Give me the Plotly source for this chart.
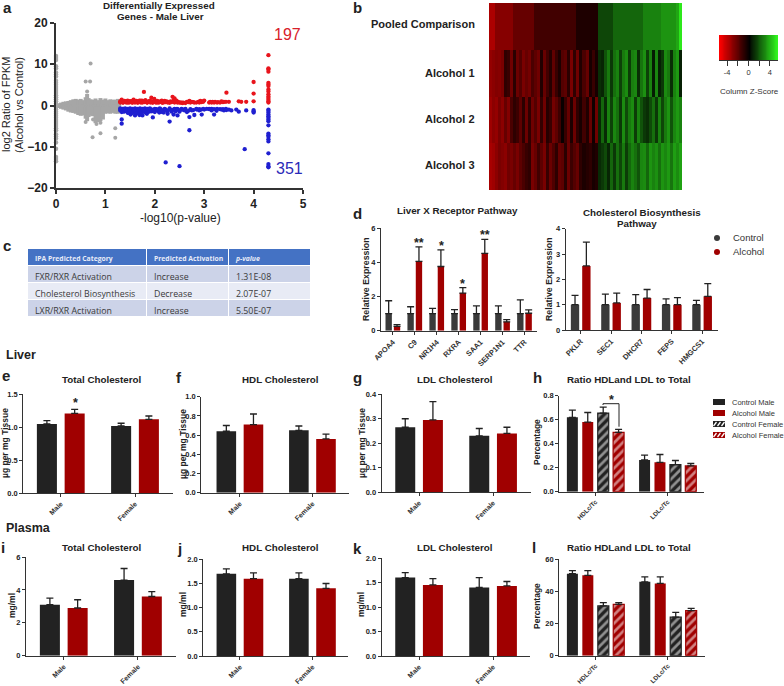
import plotly.graph_objects as go

W, H = 784, 686
FONT = "Liberation Sans"
DARK = "#222222"
DGREY = "#3a3a3a"
RED = "#a00000"
AXC = "#333333"

# ---------- panel a ----------
grey_x = [0.02,0.05,0.10,0.15,0.20,0.25,0.30,0.35,0.40,0.45,0.50,0.55,0.60,0.63,0.66,0.70,0.75,0.80,0.85,0.90,0.95,1.00,1.05,1.10,1.15,1.20,1.25,1.28]
grey_top = [0.4,0.5,0.7,0.9,1.0,1.1,1.3,1.5,1.6,1.4,1.6,1.3,2.0,2.8,1.8,1.5,1.4,1.7,1.3,1.8,1.4,1.7,1.3,1.5,1.4,1.4,1.6,1.3]
grey_bot = [0.4,0.6,0.8,1.0,1.2,1.5,1.7,1.8,2.0,2.3,2.5,2.4,3.2,3.8,2.8,2.5,2.6,4.3,4.0,3.8,3.4,2.0,1.9,2.0,1.8,2.0,2.0,1.7]
grey_out_x = [0.70,0.60,0.69,0.74,0.90,1.20,1.20,0.63,0.60,0.82,0.90,0.75]
grey_out_y = [10.2,5.8,5.8,-7.7,-6.7,-5.5,-7.8,3.4,-4.0,-4.5,-4.2,-3.4]
grey0_y = [12,11.5,11,9.5,9,8,7.5,7,6,5.5,5,4.5,4,3.5,3,2.5,2,1.5,1,0.5,0,-0.5,-1,-1.5,-2,-2.5,-3,-3.5,-4,-4.5,-5,-5.5,-6,-7,-7.5,-8,-9,-10.5,-12.5,-13,-13.5]
red_x = [1.30,1.33,1.36,1.39,1.42,1.45,1.48,1.51,1.54,1.57,1.60,1.63,1.66,1.69,1.72,1.75,1.78,1.81,1.84,1.87,1.90,1.93,1.96,1.99,2.02,2.05,2.08,2.11,2.14,2.17,2.20,2.24,2.28,2.32,2.36,2.40,2.44,2.48,2.52,2.56,2.65,2.70,2.75,2.80,2.88,2.92,2.96,3.00,3.12,3.17,3.22,3.28,3.35,3.40,3.45,3.50,3.70,3.75,3.85,4.00,4.00,4.00,1.30,1.35,1.40,1.45,1.50,1.55,1.60,1.65,1.70,1.75,1.80,1.85,1.90,1.95,2.00,2.05,2.10,2.15,2.20,2.30,2.40,2.45]
red_y = [0.7,1.4,0.7,1.1,0.7,1.2,0.7,1.0,0.7,1.4,0.7,1.1,0.7,1.2,0.7,1.1,3.3,1.3,0.7,1.0,1.1,1.9,0.7,1.6,0.7,1.1,0.7,1.0,1.2,0.7,1.1,1.0,0.8,1.0,2.1,1.7,1.2,0.8,0.7,0.6,0.9,1.1,0.9,0.7,0.9,1.1,1.0,1.2,0.9,0.9,0.9,0.8,1.0,0.9,3.1,0.9,1.0,0.9,0.9,5.7,2.9,1.0,1.0,0.7,1.0,0.7,1.0,0.7,1.0,0.7,1.1,0.7,0.9,0.7,1.0,0.7,0.9,0.7,0.9,0.7,0.8,0.7,0.7,0.8]
red_fill_x = [1.31,1.34,1.37,1.40,1.43,1.46,1.49,1.52,1.55,1.58,1.61,1.64,1.67,1.70,1.73,1.76,1.79,1.82,1.85,1.88,1.91,1.94,1.97,2.00,2.03,2.06,2.09,2.12,2.15,2.18,2.22,2.26,2.30,2.34,2.38,2.42,2.46,2.50,2.54,2.58,2.62,2.68,2.72,2.78,2.84,2.90,2.94,2.98,3.10,3.15,3.20,3.26,3.32,3.38,3.44]
red_fill_y = [0.8,1.0,0.8,0.9,1.0,0.8,1.0,0.8,1.1,0.8,1.0,0.8,1.0,0.8,1.2,0.9,0.8,1.0,0.8,0.9,0.7,1.0,0.8,1.0,0.8,0.9,0.8,0.9,0.7,0.9,0.8,0.7,0.7,0.8,1.2,0.9,0.7,0.7,0.7,0.7,0.6,0.8,0.7,0.8,0.7,0.7,0.8,0.9,0.7,0.7,0.7,0.7,0.7,0.8,0.9]
red43_y = [12.2,9.0,8.7,8.2,5.5,5.1,4.7,3.9,3.4,2.7,2.2,1.8,1.4,1.0,0.7]
blue_x = [1.30,1.33,1.33,1.33,1.36,1.39,1.42,1.45,1.48,1.51,1.54,1.57,1.60,1.63,1.66,1.69,1.72,1.75,1.78,1.81,1.84,1.87,1.90,1.95,1.96,2.00,2.05,2.10,2.15,2.20,2.22,2.26,2.30,2.34,2.38,2.42,2.46,2.50,2.50,2.55,2.60,2.65,2.70,2.70,2.75,2.80,2.85,2.90,2.95,3.00,3.10,3.15,3.20,3.25,3.35,3.40,3.45,3.50,3.55,3.65,3.70,3.82,3.85,4.00,4.00,4.00,1.30,1.35,1.40,1.45,1.50,1.55,1.60,1.65,1.70,1.75,1.80,1.85,1.90,2.00,2.10,2.20,2.30,2.40,2.45]
blue_y = [-1.2,-3.4,-4.4,-1.6,-0.8,-1.4,-1.0,-1.7,-0.8,-2.2,-1.2,-1.6,-2.4,-1.0,-1.8,-2.3,-1.1,-2.4,-1.5,-1.1,-2.0,-1.0,-1.4,-1.0,-2.9,-1.2,-1.0,-1.3,-1.6,-1.1,-13.8,-2.0,-3.9,-1.1,-2.2,-1.1,-2.4,-14.7,-1.2,-1.0,-1.2,-1.6,-6.0,-2.8,-1.2,-2.3,-1.0,-1.2,-2.2,-1.0,-0.9,-1.2,-2.2,-1.3,-1.0,-1.2,-1.1,-1.0,-1.2,-1.0,-1.5,-10.6,-1.2,-1.1,-1.4,-1.7,-0.7,-0.8,-0.7,-0.8,-0.7,-0.8,-0.7,-0.8,-0.7,-0.8,-0.7,-0.8,-0.7,-0.8,-0.7,-0.8,-0.7,-0.8,-0.8]
blue_fill_x = [1.31,1.34,1.37,1.40,1.43,1.46,1.49,1.52,1.55,1.58,1.61,1.64,1.67,1.70,1.73,1.76,1.79,1.82,1.85,1.88,1.91,1.94,1.97,2.00,2.03,2.06,2.09,2.12,2.15,2.18,2.22,2.26,2.30,2.34,2.38,2.42,2.46,2.50,2.54,2.58,2.62,2.68,2.72,2.78,2.84,2.90,2.94,2.98,3.05,3.10,3.15,3.20,3.26,3.32,3.38,3.44]
blue_fill_y = [-0.9,-1.2,-1.5,-1.0,-1.3,-1.8,-1.1,-1.5,-1.8,-1.1,-1.5,-1.9,-1.2,-1.6,-2.0,-1.0,-1.4,-1.8,-1.2,-1.5,-0.9,-1.4,-1.1,-1.6,-0.9,-1.3,-1.7,-0.9,-1.2,-1.7,-1.0,-1.3,-1.0,-1.5,-1.0,-1.4,-0.9,-1.5,-0.8,-1.0,-0.8,-1.3,-0.9,-1.1,-0.8,-0.9,-1.0,-0.8,-0.8,-0.8,-0.8,-0.9,-0.8,-0.9,-0.9,-0.8]
blue43_y = [-1.0,-1.3,-1.7,-2.2,-2.6,-3.0,-3.4,-3.8,-4.8,-6.8,-7.2,-7.6,-8.2,-8.7,-11.6,-14.2,-14.7,-15.0]

# ---------- panel b ----------
row_names = ["Pooled Comparison","Alcohol 1","Alcohol 2","Alcohol 3"]
pooled = [-3.7,-3.7,-2.9,-2.9,-2.9,-2.9,-2.9,-2.9,-2.2,-2.2,-2.2,-2.2,-2.2,-2.2,-2.2,-1.4,-1.4,-1.4,-1.4,-1.4,-1.4,-1.4,-1.4,-1.4,-1.4,-1.4,-1.4,-1.4,-1.4,-0.65,-0.65,-0.65,-0.65,-0.65,-0.65,-0.65,
          1.5,1.5,1.5,1.5,1.5,2.2,2.2,2.2,2.2,2.2,2.2,2.2,2.2,2.2,2.2,2.8,2.8,2.8,2.8,2.8,2.8,3.2,3.2,3.2,3.2,3.2,3.6,5.0]
alc1 = [-3.2,-3.0,-2.8,-2.9,-2.6,-1.0,-1.2,-2.4,-0.9,-2.3,-1.8,-2.6,-2.2,-2.5,-1.6,-2.0,-2.4,-0.7,-2.2,-1.4,-0.8,-2.1,-1.2,-0.6,-1.8,-2.0,-0.9,-2.6,-1.0,-2.4,-0.7,-1.6,-2.2,-0.5,-1.2,-0.5,
        1.0,0.8,1.8,2.6,1.2,2.4,2.8,1.4,2.6,3.0,1.3,2.7,2.9,1.0,2.5,3.1,1.4,2.8,0.6,2.9,0.7,1.2,3.0,2.6,1.0,2.8,3.3,0.7]
alc2 = [-3.4,-3.0,-3.2,-2.6,-3.0,-2.2,-2.8,-1.6,-1.0,-1.3,-2.0,-0.9,-2.3,-1.0,-2.4,-1.8,-2.6,-1.1,-2.4,-0.8,-1.2,-2.5,-2.0,-1.3,-0.2,-1.2,-2.2,-0.6,-2.3,-1.0,-0.5,-1.4,-0.7,-2.2,-0.3,-2.4,
        0.8,2.2,0.9,2.8,1.4,2.9,2.4,1.2,3.0,1.6,2.6,3.0,1.3,2.8,1.8,1.2,1.0,1.6,2.4,1.2,2.8,1.5,2.6,3.2,1.8,2.9,3.3,2.8]
alc3 = [-3.6,-3.4,-3.0,-2.6,-2.8,-3.0,-2.4,-2.6,-2.2,-2.6,-2.0,-1.6,-1.2,-1.0,-2.6,-2.2,-1.4,-2.0,-2.6,-1.2,-2.3,-1.7,-1.0,-2.2,-2.0,-0.9,-2.3,-1.3,-1.8,-2.2,-1.0,-0.6,-0.8,-1.0,-0.5,-0.7,
        0.9,1.2,1.6,0.8,2.2,1.2,2.4,1.5,2.6,1.3,2.2,2.8,2.4,1.8,2.9,3.0,2.2,3.2,2.8,3.1,2.4,3.2,2.9,3.3,2.5,3.4,3.0,3.5]
key_z = [-5.5,-5,-4.5,-4,-3.5,-3,-2.5,-2,-1.5,-1,-0.5,0,0.5,1,1.5,2,2.5,3,3.5,4,4.5,5,5.5]

# ---------- panel c ----------
tbl_head = ["IPA\u00a0Predicted\u00a0Category","Predicted\u00a0Activation","p-value"]
tbl_cat = ["FXR/RXR\u00a0Activation","Cholesterol\u00a0Biosynthesis","LXR/RXR\u00a0Activation"]
tbl_act = ["Increase","Decrease","Increase"]
tbl_p = ["1.31E-08","2.07E-07","5.50E-07"]

# ---------- panel d ----------
lxr_genes = ["APOA4","C9","NR1H4","RXRA","SAA1","SERP1N1","TTR"]
lxr_ctrl = [1,1,1,1,1,1,1]
lxr_ctrl_top = [1.75,1.4,1.3,1.23,1.45,1.45,1.8]
lxr_alc = [0.25,4.05,3.75,2.2,4.52,0.52,1.02]
lxr_alc_top = [0.35,4.9,4.72,2.52,5.33,0.65,1.22]
chol_genes = ["PKLR","SEC1","DHCR7","FEPS","HMGCS1"]
chol_ctrl = [1,1,1,1,1]
chol_ctrl_top = [1.37,1.42,1.4,1.23,1.17]
chol_alc = [2.53,1.07,1.26,1.0,1.33]
chol_alc_top = [3.47,1.46,1.6,1.28,1.83]

# ---------- panels e-l ----------
sex = ["Male","Female"]
ratio = ["HDLc/Tc","LDLc/Tc"]
e_ctrl, e_ctrl_top, e_alc, e_alc_top = [1.05,1.02],[1.10,1.06],[1.21,1.12],[1.27,1.17]
f_ctrl, f_ctrl_top, f_alc, f_alc_top = [0.64,0.65],[0.70,0.695],[0.71,0.56],[0.82,0.61]
g_ctrl, g_ctrl_top, g_alc, g_alc_top = [0.265,0.23],[0.30,0.26],[0.295,0.24],[0.37,0.265]
i_ctrl, i_ctrl_top, i_alc, i_alc_top = [3.1,4.6],[3.5,5.3],[2.9,3.6],[3.4,3.9]
j_ctrl, j_ctrl_top, j_alc, j_alc_top = [1.7,1.6],[1.8,1.72],[1.6,1.4],[1.72,1.5]
k_ctrl, k_ctrl_top, k_alc, k_alc_top = [1.6,1.4],[1.7,1.6],[1.45,1.43],[1.58,1.52]
h_cm, h_cm_top = [0.62,0.265],[0.68,0.305]
h_am, h_am_top = [0.58,0.245],[0.66,0.31]
h_cf, h_cf_top = [0.655,0.225],[0.705,0.26]
h_af, h_af_top = [0.495,0.215],[0.52,0.235]
l_cm, l_cm_top = [51,46],[53,49]
l_am, l_am_top = [50,45],[53,49]
l_cf, l_cf_top = [31,24],[33,27]
l_af, l_af_top = [32,28],[33,29.5]
h_legend = ["Control Male","Alcohol Male","Control Female","Alcohol Female"]

fig = go.Figure()
layout = dict(width=W, height=H, autosize=False, margin=dict(l=0,r=0,t=0,b=0,pad=0),
              paper_bgcolor="white", plot_bgcolor="white", showlegend=False,
              barmode="overlay", font=dict(family=FONT, color="#222"))
anns, shapes = [], []
n_ax = [0]

def px(v): return v / W
def py(v): return 1 - v / H

def text(x, y, s, size=9, bold=True, color="#222", angle=0, align="center", family=FONT):
    anns.append(dict(xref="paper", yref="paper", x=px(x), y=py(y), text=s, showarrow=False,
                     font=dict(size=size, color=color, family=family, weight=700 if bold else 400),
                     textangle=angle, xanchor=align, yanchor="middle"))

def axes(left, right, top, bottom, xr, yr, lw=1.2, **kw):
    n_ax[0] += 1
    n = n_ax[0]
    xa = dict(domain=[px(left), px(right)], range=xr, anchor=f"y{n}", showgrid=False, zeroline=False,
              showline=True, linecolor=AXC, linewidth=lw, ticks="outside", ticklen=3, tickwidth=1, tickcolor=AXC,
              fixedrange=True, automargin=False)
    ya = dict(domain=[py(bottom), py(top)], range=yr, anchor=f"x{n}", showgrid=False, zeroline=False,
              showline=True, linecolor=AXC, linewidth=lw, ticks="outside", ticklen=3, tickwidth=1, tickcolor=AXC,
              fixedrange=True, automargin=False)
    xa.update(kw.get("x", {})); ya.update(kw.get("y", {}))
    layout[f"xaxis{n}"] = xa
    layout[f"yaxis{n}"] = ya
    return f"x{n}", f"y{n}"

def bar(xa, ya, cats, vals, tops, color, center, width, hatch=False):
    marker = dict(color=color, line=dict(width=0))
    if hatch:
        marker = dict(color=color, line=dict(color=color, width=1.2),
                      pattern=dict(shape="/", fgcolor="white", bgcolor=color, size=6, solidity=0.45))
    fig.add_trace(go.Bar(x=cats, y=vals, xaxis=xa, yaxis=ya, marker=marker, width=width, offset=center - width/2,
                         error_y=dict(type="data", symmetric=False, array=[t - v for t, v in zip(tops, vals)],
                                      arrayminus=[0]*len(vals), color="#222", thickness=1.3, width=3.5)))

def bar_panel(left, right, top, bottom, cats, xr, yr, tickvals, fmt, series, width, offs, tick_size=7):
    xa, ya = axes(left, right, top, bottom, xr, yr,
                  x=dict(type="category", tickangle=-45, tickfont=dict(size=tick_size, weight=700, family=FONT, color="#333")),
                  y=dict(tickvals=tickvals, tickformat=fmt, tickfont=dict(size=7.5, weight=700, family=FONT, color="#222")))
    for (vals, tops, color, hatch), off in zip(series, offs):
        bar(xa, ya, cats, vals, tops, color, off, width, hatch)

# panel a
xa, ya = axes(56, 303, 23, 188, [0,5], [-20,20], lw=2,
              x=dict(tickvals=[0,1,2,3,4,5], ticklen=4, tickwidth=2, tickfont=dict(size=12, weight=700, family=FONT)),
              y=dict(tickvals=[-20,-10,0,10,20], ticklen=4, tickwidth=2, tickfont=dict(size=12, weight=700, family=FONT)))
GREY = "#a6a6a6"
fig.add_trace(go.Scatter(x=grey_x, y=[0]*len(grey_x), xaxis=xa, yaxis=ya, mode="markers",
                         marker=dict(size=3, color=GREY),
                         error_y=dict(type="data", symmetric=False, array=grey_top, arrayminus=grey_bot,
                                      color=GREY, thickness=4, width=0)))
fig.add_trace(go.Scatter(x=grey_out_x, y=grey_out_y, xaxis=xa, yaxis=ya, mode="markers", marker=dict(size=4, color=GREY)))
fig.add_trace(go.Scatter(x=[0]*len(grey0_y), y=grey0_y, xaxis=xa, yaxis=ya, mode="markers", marker=dict(size=4.5, color=GREY), cliponaxis=False))
fig.add_trace(go.Scatter(x=red_x + red_fill_x + [4.3]*len(red43_y), y=red_y + red_fill_y + red43_y, xaxis=xa, yaxis=ya,
                         mode="markers", marker=dict(size=4.3, color="#e8141c")))
fig.add_trace(go.Scatter(x=blue_x + blue_fill_x + [4.3]*len(blue43_y), y=blue_y + blue_fill_y + blue43_y, xaxis=xa, yaxis=ya,
                         mode="markers", marker=dict(size=4.3, color="#1f1fd0")))

# panel b
n_ax[0] += 1
nb = n_ax[0]
layout[f"xaxis{nb}"] = dict(domain=[px(489), px(682)], visible=False, anchor=f"y{nb}", fixedrange=True, automargin=False)
layout[f"yaxis{nb}"] = dict(domain=[py(190), py(3)], visible=False, anchor=f"x{nb}", autorange="reversed", fixedrange=True, automargin=False)
CS = [[0,"rgb(255,0,0)"],[0.5,"rgb(0,0,0)"],[1,"rgb(50,255,30)"]]
fig.add_trace(go.Heatmap(z=[pooled, alc1, alc2, alc3], y=row_names, xaxis=f"x{nb}", yaxis=f"y{nb}",
                         colorscale=CS, zmin=-5.5, zmax=5.5, showscale=False))
for name, y in zip(row_names, [24, 73, 119, 165]):
    text(477, y, name, size=11, align="right")

# colour key
xa, ya = axes(719, 778, 35, 60, [-5.5,5.5], [0,1], lw=1,
              x=dict(tickvals=[-4,-2,0,2,4], ticktext=["-4","","0","","4"], ticklen=5,
                     tickfont=dict(size=7.5, color="#333", family=FONT)),
              y=dict(visible=False))
fig.add_trace(go.Heatmap(z=[key_z], x=key_z, y=[0.5], xaxis=xa, yaxis=ya, colorscale=CS, zmin=-5.5, zmax=5.5,
                         showscale=False, zsmooth="best"))
text(749, 92, "Column Z-Score", size=8, bold=False, color="#333")

# panel c
fig.add_trace(go.Table(domain=dict(x=[px(27), px(310)], y=[py(316), py(248)]),
                       columnwidth=[119,82,82],
                       header=dict(values=tbl_head, height=17,
                                   fill_color="#4472c4", line=dict(color="white", width=1),
                                   font=dict(size=6.8, color="#e8ecf8", family="Open Sans", weight=700,
                                             style=["normal","normal","italic"]), align="left"),
                       cells=dict(values=[tbl_cat, tbl_act, tbl_p], height=17,
                                  fill_color=[["#ccd3e8","#e8ebf5","#ccd3e8"]]*3,
                                  line=dict(color="white", width=1),
                                  font=dict(size=8.8, color="#3a3a3a", family="Open Sans"), align="left")))

# panel d
bar_panel(381, 537, 228, 330.7, lxr_genes, [-0.54,6.57], [0,6], [0,2,4,6], "d",
          [(lxr_ctrl, lxr_ctrl_top, DGREY, False), (lxr_alc, lxr_alc_top, RED, False)], 0.29, [-0.19,0.19], tick_size=7.5)
bar_panel(565.7, 717.7, 228.7, 330, chol_genes, [-0.494,4.514], [0,4], [0,1,2,3,4], "d",
          [(chol_ctrl, chol_ctrl_top, DGREY, False), (chol_alc, chol_alc_top, RED, False)], 0.275, [-0.187,0.187], tick_size=7.5)

# panels e,f,g,i,j,k
W2, OF2 = 0.27, 0.187
sr = lambda a,b,c,d: [(a,b,DARK,False),(c,d,RED,False)]
bar_panel(23.3,172.7,394.3,493,sex,[-0.505,1.508],[0,1.5],[0,0.5,1,1.5],".1f",sr(e_ctrl,e_ctrl_top,e_alc,e_alc_top),W2,[-OF2,OF2])
bar_panel(201.3,348.7,396.7,492.7,sex,[-0.532,1.5],[0,1],[0,0.2,0.4,0.6,0.8,1],".1f",sr(f_ctrl,f_ctrl_top,f_alc,f_alc_top),W2,[-OF2,OF2])
bar_panel(381.7,530.7,394.3,492,sex,[-0.505,1.508],[0,0.4],[0,0.1,0.2,0.3,0.4],".1f",sr(g_ctrl,g_ctrl_top,g_alc,g_alc_top),W2,[-OF2,OF2])
bar_panel(26,175.7,557,655.7,sex,[-0.509,1.509],[0,6],[0,2,4,6],"d",sr(i_ctrl,i_ctrl_top,i_alc,i_alc_top),W2,[-OF2,OF2])
bar_panel(203.3,348,559.3,656,sex,[-0.505,1.49],[0,2],[0,0.5,1,1.5,2],".1f",sr(j_ctrl,j_ctrl_top,j_alc,j_alc_top),W2,[-OF2,OF2])
bar_panel(381.7,529.7,558,656,sex,[-0.505,1.495],[0,2],[0,0.5,1,1.5,2],".1f",sr(k_ctrl,k_ctrl_top,k_alc,k_alc_top),W2,[-OF2,OF2])

# panels h, l
OF4 = [-0.32,-0.107,0.107,0.32]
bar_panel(559.3,704.3,395.7,491.7,ratio,[-0.501,1.507],[0,0.8],[0,0.2,0.4,0.6,0.8],".1f",
          [(h_cm,h_cm_top,DARK,False),(h_am,h_am_top,RED,False),(h_cf,h_cf_top,DARK,True),(h_af,h_af_top,RED,True)],0.152,OF4,tick_size=6.3)
bar_panel(559.3,704.7,559.3,655.7,ratio,[-0.501,1.507],[0,60],[0,20,40,60],"d",
          [(l_cm,l_cm_top,DARK,False),(l_am,l_am_top,RED,False),(l_cf,l_cf_top,DARK,True),(l_af,l_af_top,RED,True)],0.152,OF4,tick_size=6.3)

# texts
for s, x, y, sz in [("a",7,8,15),("b",357,8,15),("c",7,245,15),("d",357,213,15),("e",6,376,15),("f",179,378,15),
                    ("g",357,378,15),("h",537,378,15),("i",3,547,15),("j",179,548,15),("k",357,548,15),("l",534,547,15),
                    ("Liver",21,355,12.5),("Plasma",28,528,12.5)]:
    text(x, y, s, size=sz)
text(159,5,"Differentially Expressed",size=9.8)
text(160,17,"Genes - Male Liver",size=9.8)
text(287,34,"197",size=16,bold=False,color="#d8202a")
text(289,168,"351",size=16,bold=False,color="#2a2ab8")
text(6,105,"log2 Ratio of FPKM",size=11,bold=False,angle=-90)
text(19,105,"(Alcohol vs Control)",size=11,bold=False,angle=-90)
text(180,218,"-log10(p-value)",size=12,bold=False)
text(458,211,"Liver X Receptor Pathway",size=9.8)
text(642,212,"Cholesterol Biosynthesis",size=9.8)
text(637,223,"Pathway",size=9.8)
text(366,279,"Relative Expression",size=8.8,angle=-90)
text(549,279,"Relative Expression",size=8.8,angle=-90)
for y in [379,547]:
    text(102,y,"Total Cholesterol",size=9.8)
    text(280,y,"HDL Cholesterol",size=9.8)
    text(455,y,"LDL Cholesterol",size=9.8)
    text(629,y,"Ratio HDLand LDL to Total",size=9.8)
for x, y in [(5,443),(183,444),(362,443)]:
    text(x,y,"µg per mg Tissue",size=8.5,angle=-90)
for x, y in [(12,606),(183,605),(361,605)]:
    text(x,y,"mg/ml",size=8.5,angle=-90)
text(537,442,"Percentage",size=8.5,angle=-90)
text(537,606,"Percentage",size=8.5,angle=-90)
# stars
for x, y, s in [(418.7,241,"**"),(441,244,"*"),(462.5,282,"*"),(485,233,"**"),(75,401,"*"),(611,398,"*")]:
    text(x,y+2,s,size=12.5)
# bracket in h
for x0,y0,x1,y1 in [(603,405,603,403.7),(603,403.7,619,403.7),(619,403.7,619,426.7)]:
    shapes.append(dict(type="line",xref="paper",yref="paper",x0=px(x0),y0=py(y0),x1=px(x1),y1=py(y1),line=dict(color="#222",width=1)))
# legend d
for y, c, s in [(238,DGREY,"Control"),(252,RED,"Alcohol")]:
    shapes.append(dict(type="circle",xref="paper",yref="paper",x0=px(714),x1=px(720),y0=py(y+3),y1=py(y-3),fillcolor=c,line=dict(width=0)))
    text(731,y,s,size=9.5,bold=False,align="left",color="#333")
# legend h
for y, name, c, hat in zip([402,413,424,435],h_legend,[DARK,RED,DARK,RED],[False,False,True,True]):
    shapes.append(dict(type="rect",xref="paper",yref="paper",x0=px(713),x1=px(725),y0=py(y+3),y1=py(y-3),fillcolor=c,line=dict(width=0)))
    if hat:
        for dx in [2,6,10]:
            shapes.append(dict(type="line",xref="paper",yref="paper",x0=px(713+dx-1.5),y0=py(y+2),x1=px(713+dx+1.5),y1=py(y-2),line=dict(color="white",width=1.3)))
    text(730,y,name,size=7.5,bold=False,align="left",color="#333")

layout["annotations"] = anns
layout["shapes"] = shapes
fig.update_layout(**layout)
fig.write_html("out.html", config=dict(displayModeBar=False),
               post_script="document.body.style.margin='0';")
